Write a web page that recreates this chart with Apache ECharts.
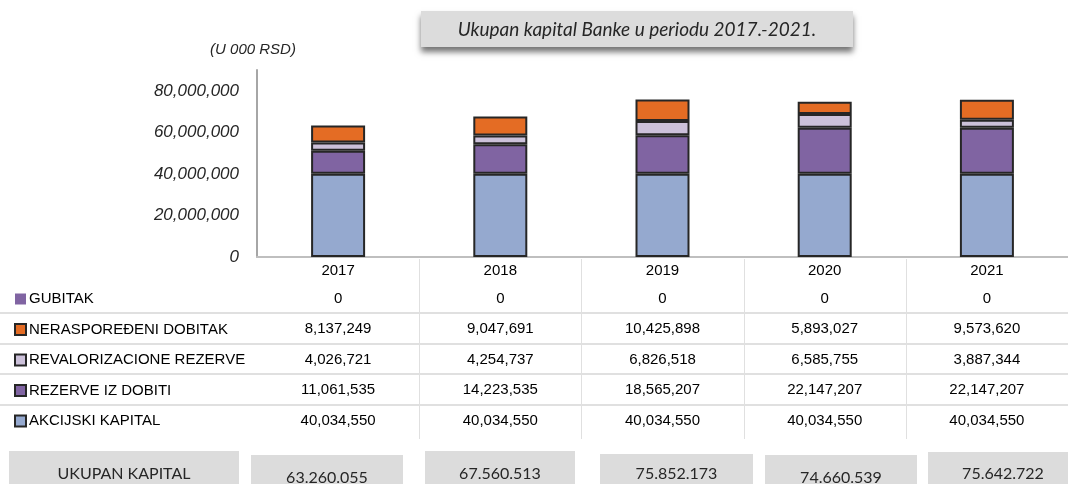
<!DOCTYPE html>
<html style="height: 100%">
<head>
    <meta charset="utf-8">
</head>
<body style="height: 100%; margin: 0; background: #fff">
<div id="container" style="width: 1068px; height: 484px"></div>
<script type="text/javascript" src="https://cdn.jsdelivr.net/npm/echarts@6/dist/echarts.min.js"></script>
<script type="text/javascript">
    var years = ['2017', '2018', '2019', '2020', '2021'];

    // series, bottom to top of the stack
    var akcijskiKapital = [40034550, 40034550, 40034550, 40034550, 40034550];
    var rezerveIzDobiti = [11061535, 14223535, 18565207, 22147207, 22147207];
    var revalorizacioneRezerve = [4026721, 4254737, 6826518, 6585755, 3887344];
    var neraspoedjeniDobitak = [8137249, 9047691, 10425898, 5893027, 9573620];
    var gubitak = [0, 0, 0, 0, 0];
    var ukupanKapital = ['63.260.055', '67.560.513', '75.852.173', '74.660.539', '75.642.722'];

    var seriesNames = ['AKCIJSKI KAPITAL', 'REZERVE IZ DOBITI', 'REVALORIZACIONE REZERVE', 'NERASPOREĐENI DOBITAK', 'GUBITAK'];
    var seriesData = [akcijskiKapital, rezerveIzDobiti, revalorizacioneRezerve, neraspoedjeniDobitak, gubitak];
    var seriesColors = ['#95a9cf', '#8064a2', '#ccc1da', '#e46c24', '#8064a2'];

    var ARIAL = '"Liberation Sans", Arial, sans-serif';
    var CALIBRI = 'Lato, "Open Sans", sans-serif';

    var dom = document.getElementById('container');
    var myChart = echarts.init(dom);

    function fmtComma(v) {
        return v.toLocaleString('en-US');
    }

    var series = seriesNames.map(function (name, i) {
        return {
            name: name,
            type: 'bar',
            stack: 'kapital',
            barWidth: 54,
            data: seriesData[i],
            itemStyle: {
                color: seriesColors[i],
                borderColor: '#262626',
                borderWidth: name === 'GUBITAK' ? 0 : 2
            }
        };
    });

    var option = {
        animation: false,
        grid: {left: 257, top: 70, width: 821, height: 187},
        legend: {
            orient: 'vertical',
            left: 14,
            top: 291,
            padding: 0,
            icon: 'rect',
            itemWidth: 11,
            itemHeight: 11,
            itemGap: 14.5,
            selectedMode: false,
            data: seriesNames.slice().reverse(),
            textStyle: {fontFamily: ARIAL, fontSize: 15, color: '#000', lineHeight: 16, padding: [0, 0, 0, -2]}
        },
        xAxis: {
            type: 'category',
            data: years,
            axisLine: {lineStyle: {color: '#bfbfbf', width: 2}},
            axisTick: {show: false},
            axisLabel: {fontFamily: ARIAL, fontSize: 15, color: '#000', margin: 6}
        },
        yAxis: {
            type: 'value',
            min: 0,
            max: 90000000,
            interval: 20000000,
            name: '(U 000 RSD)',
            nameLocation: 'end',
            nameGap: 13,
            nameTextStyle: {fontFamily: ARIAL, fontStyle: 'italic', fontSize: 15, color: '#262626', padding: [0, 8, 0, 0]},
            splitLine: {show: false},
            axisLine: {show: true, lineStyle: {color: '#a6a6a6', width: 2}},
            axisTick: {show: false},
            axisLabel: {
                showMaxLabel: false,
                fontFamily: ARIAL,
                fontStyle: 'italic',
                fontSize: 17,
                color: '#262626',
                margin: 18,
                formatter: function (v) { return fmtComma(v); }
            }
        },
        series: series
    };
    myChart.setOption(option);

    // data table under the axis, title box and total boxes
    var rowY = [299, 329, 360, 390, 421];
    var boxLayout = [
        {x: 9, y: 451, w: 230, h: 40, ty: 474},
        {x: 251, y: 455, w: 152, h: 40, ty: 478},
        {x: 425, y: 451, w: 150, h: 40, ty: 474},
        {x: 600, y: 454, w: 153, h: 40, ty: 474},
        {x: 765, y: 455, w: 152, h: 40, ty: 478},
        {x: 928, y: 452, w: 150, h: 40, ty: 474}
    ];
    var graphics = [];
    var rows = seriesData.slice().reverse();
    var xs = years.map(function (y) { return myChart.convertToPixel({xAxisIndex: 0}, y); });
    var band = xs[1] - xs[0];

    // row lines
    for (var r = 0; r < rows.length - 1; r++) {
        var ly = Math.round((rowY[r] + rowY[r + 1]) / 2) - 1;
        graphics.push({type: 'line', shape: {x1: 0, y1: ly, x2: 1068, y2: ly}, style: {stroke: '#e0e0e0', lineWidth: 2}});
    }
    // column lines
    for (var c = 1; c < years.length; c++) {
        var lx = Math.round(xs[c] - band / 2) + 0.5;
        graphics.push({type: 'line', shape: {x1: lx, y1: 259, x2: lx, y2: 439}, style: {stroke: '#e0e0e0', lineWidth: 1}});
    }
    // cell values
    rows.forEach(function (vals, r) {
        vals.forEach(function (v, c) {
            graphics.push({
                type: 'text', x: xs[c], y: rowY[r],
                style: {text: fmtComma(v), fontFamily: ARIAL, fontSize: 15, fill: '#000', align: 'center', verticalAlign: 'middle'}
            });
        });
    });

    // title box
    graphics.push({
        type: 'rect', shape: {x: 421, y: 11, width: 432, height: 36},
        style: {fill: '#dcdcdc', shadowBlur: 6, shadowOffsetY: 5, shadowColor: 'rgba(0,0,0,0.55)'}
    });
    graphics.push({
        type: 'text', x: 637, y: 30,
        style: {text: 'Ukupan kapital Banke u periodu 2017.-2021.', fontFamily: CALIBRI, fontStyle: 'italic', fontSize: 19, fill: '#262626', align: 'center', verticalAlign: 'middle'}
    });

    // totals
    var boxTexts = ['UKUPAN KAPITAL'].concat(ukupanKapital);
    boxLayout.forEach(function (b, i) {
        graphics.push({type: 'rect', shape: {x: b.x, y: b.y, width: b.w, height: b.h}, style: {fill: '#dcdcdc'}});
        graphics.push({
            type: 'text', x: b.x + b.w / 2, y: b.ty,
            style: {text: boxTexts[i], fontFamily: CALIBRI, fontSize: 16, fill: '#262626', align: 'center', verticalAlign: 'middle'}
        });
    });

    myChart.setOption({graphic: graphics});
</script>
</body>
</html>
